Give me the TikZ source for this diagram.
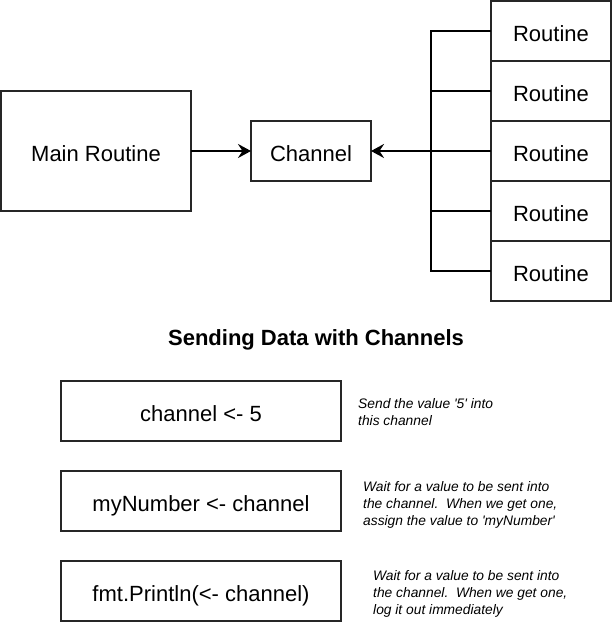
\documentclass[tikz,border=0pt]{standalone}
\usepackage{fontspec}
\setmainfont{Liberation Sans}[Ligatures=TeXOff]
\usetikzlibrary{arrows.meta}
\begin{document}
\begin{tikzpicture}[x=1pt,y=-1pt,
  box/.style={draw=black!85, line width=1.4pt, fill=white, inner sep=0pt, outer sep=0pt,
    text height=22pt, text depth=1.6pt,
    font=\fontsize{22}{26}\selectfont},
  conn/.style={line width=2.8pt, line join=miter},
  arr/.style={conn, -{Stealth[length=13pt,width=14pt,inset=4.5pt]}},
  note/.style={anchor=base west, align=left, inner sep=0pt,
    font=\fontsize{13.8}{17}\selectfont\itshape},
  title/.style={anchor=base, inner sep=0pt, font=\fontsize{22}{26}\selectfont\bfseries}]
\useasboundingbox (0,0) rectangle (612,622);
% top part
\node[box, minimum width=190pt, minimum height=120pt] (main) at (96,151) {Main Routine};
\node[box, minimum width=120pt, minimum height=60pt] (ch) at (311,151) {Channel};
\foreach \i/\y in {1/31,2/91,3/151,4/211,5/271}
  \node[box, minimum width=120pt, minimum height=60pt] (r\i) at (551,\y) {Routine};
\coordinate (bt) at (431,31);
\coordinate (bb) at (431,271);
\draw[conn] (r1.west) -- (bt) -- (bb) -- (r5.west);
\draw[conn] (r2.west) -- (bt |- r2.west);
\draw[conn] (r4.west) -- (bt |- r4.west);
\draw[arr] (r3.west) -- (ch.east);
\draw[arr] (main.east) -- (ch.west);
% bottom part
\node[title] (t) at (316,345) {Sending Data with Channels};
\node[box, minimum width=280pt, minimum height=60pt] (b1) at (201,411) {channel <- 5};
\node[box, minimum width=280pt, minimum height=60pt] (b2) at (201,501) {myNumber <- channel};
\node[box, minimum width=280pt, minimum height=60pt] (b3) at (201,591) {fmt.Println(<- channel)};
\node[note] (n1) at (358,425) {Send the value '5' into\\this channel};
\node[note] (n2) at (363,525) {Wait for a value to be sent into\\the channel.\ \ When we get one,\\assign the value to 'myNumber'};
\node[note] (n3) at (373,614) {Wait for a value to be sent into\\the channel.\ \ When we get one,\\log it out immediately};
\end{tikzpicture}
\end{document}
